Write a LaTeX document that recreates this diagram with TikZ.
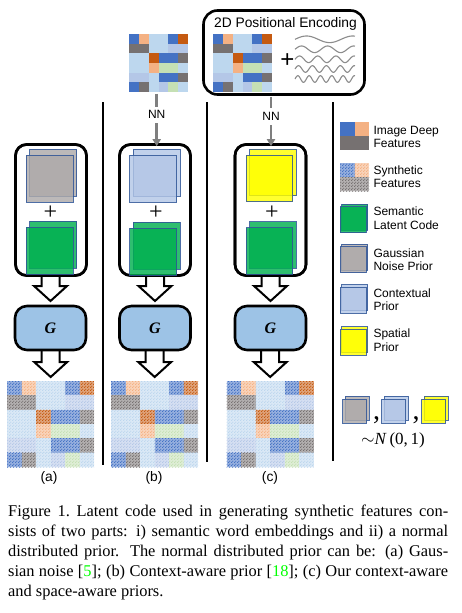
\documentclass[tikz,border=0pt]{standalone}
\usepackage{fontspec}
\setmainfont{Liberation Serif}
\setsansfont{Liberation Sans}
\usetikzlibrary{calc,patterns.meta,arrows.meta}

\definecolor{mB}{HTML}{4472C4}
\definecolor{mLO}{HTML}{F4B183}
\definecolor{mLB}{HTML}{BDD7EE}
\definecolor{mDO}{HTML}{C55A11}
\definecolor{mG}{HTML}{767171}
\definecolor{mP}{HTML}{B4C7E7}
\definecolor{mLG}{HTML}{C5E0B4}
\definecolor{noisegray}{HTML}{AEAAAA}
\definecolor{ctxblue}{HTML}{B4C7E7}
\definecolor{spyellow}{HTML}{FFFF00}
\definecolor{semgreen}{HTML}{00B050}
\definecolor{edgeblue}{HTML}{2F5597}
\definecolor{gboxfill}{HTML}{9DC3E6}
\definecolor{nngray}{HTML}{7F7F7F}
\definecolor{wavegray}{HTML}{8C8C8C}
\definecolor{citegreen}{rgb}{0,1,0}

\tikzdeclarepattern{
  name=dotgrid,
  type=uncolored,
  bottom left={(0pt,0pt)},
  top right={(3pt,3pt)},
  tile size={(3pt,3pt)},
  code={
    \pgfpathcircle{\pgfpoint{0.75pt}{0.75pt}}{0.9pt}
    \pgfpathcircle{\pgfpoint{2.25pt}{2.25pt}}{0.9pt}
    \pgfusepath{fill}
  }
}

\newcommand\fsz[2]{\fontsize{#1}{#2}\selectfont}

% mosaic: x y cellw cellh style
\newcommand\mosaicgrid[5]{%
  \foreach \mrow [count=\mr from 0] in {{mB,mLO,mLB,mLB,mB,mDO},{mG,mG,mLB,mLB,mP,mP},{mLB,mLB,mDO,mB,mB,mG},{mLB,mLB,mLO,mLG,mLG,mLB},{mP,mP,mLB,mB,mB,mG},{mB,mG,mLB,mP,mLG,mLB}}{%
    \foreach \mc [count=\mcol from 0] in \mrow {%
      \path[#5=\mc] ({#1+\mcol*#3},{#2+\mr*#4}) rectangle ++(#3,#4);}}}

% stacked squares: colour, front x, front y, size, dx, dy
\newcommand\stacksq[6]{%
  \path[sqback=#1] ({#2+#5},{#3-#6}) rectangle ++(#4,#4);
  \path[sqfront=#1] (#2,#3) rectangle ++(#4,#4);}

% block arrow: from node anchor #1 to node anchor #2, tip gap #3, head start #4
\newcommand\blockarrow[4]{%
  \draw[blockarr] ($(#2 |- #1)+(-9,0)$) -- ($(#2)+(-9,-#4)$) -- ($(#2)+(-16.5,-#4)$)
    -- ($(#2)+(0,-#3)$) -- ($(#2)+(16.5,-#4)$) -- ($(#2)+(9,-#4)$) -- ($(#2 |- #1)+(9,0)$);}

\begin{document}
\begin{tikzpicture}[x=1pt,y=-1pt,
  colbox/.style={draw=black, line width=2.6pt, rounded corners=11pt, inner sep=0},
  gbox/.style={draw=black, line width=2.6pt, fill=gboxfill, rounded corners=12pt, inner sep=0,
    minimum width=71pt, minimum height=44pt, font=\fsz{16}{19}\bfseries\itshape},
  posbox/.style={draw=black, line width=2.6pt, rounded corners=14pt, inner sep=0},
  blockarr/.style={draw=black, fill=white, line width=2pt, line join=miter},
  nnarrow/.style={draw=nngray, line width=2.6pt, -{Triangle[width=8pt,length=7pt]}},
  nnlabel/.style={fill=white, inner xsep=1pt, inner ysep=4pt, font=\sffamily\fsz{12}{14}, text=black},
  sepline/.style={line width=2.4pt, black},
  sqfront/.style={fill=#1, fill opacity=0.82, draw=edgeblue, draw opacity=0.85, line width=0.9pt},
  sqback/.style={fill=#1, fill opacity=0.82, draw=edgeblue, draw opacity=0.85, line width=0.9pt},
  solidcell/.style={fill=#1},
  synthcell/.style={preaction={fill=#1!55!white}, pattern={dotgrid}, pattern color=#1},
  plustxt/.style={font=\fsz{24}{26}, inner sep=0},
  legtxt/.style={anchor=base west, inner sep=0, font=\sffamily\fsz{12}{14}},
  sublabel/.style={font=\sffamily\fsz{13.8}{16}, inner sep=0},
  captxt/.style={anchor=base west, inner sep=0, font=\fsz{16.4}{20}},
  wave/.style={draw=wavegray, line width=1.1pt},
  mosaicbox/.style={inner sep=0, anchor=north west},
]
\useasboundingbox (0,0) rectangle (461,613);
\fill[white] (0,0) rectangle (461,613);

% ---------- top features ----------
\node[mosaicbox, minimum width=59pt, minimum height=58pt] (feat) at (129,34) {};
\mosaicgrid{129}{34}{9.833}{9.667}{solidcell}

\node[posbox, minimum width=161pt, minimum height=84pt] (posbox) at (284,52.5) {};
\node[anchor=base, inner sep=0, font=\sffamily\fsz{13.8}{16}] (postitle) at (285.5,27.3) {2D Positional Encoding};
\node[mosaicbox, minimum width=59pt, minimum height=58pt] (posfeat) at (213,34) {};
\mosaicgrid{213}{34}{9.833}{9.667}{solidcell}
\node[inner sep=0, font=\sffamily\fsz{24}{26}] (posplus) at (287.3,61) {+};
\foreach \k/\yy in {1.3/39.3,2.3/49.3,3.3/59.3,4.3/69,5.3/79}
  \draw[wave] plot[domain=0:60,samples=160] ({295+\x},{\yy-3.3*sin(\k*6*\x)});

% ---------- separators ----------
\draw[sepline] (103,102) -- (103,465);
\draw[sepline] (207,102) -- (207,462);
\draw[sepline] (333,102) -- (333,461);

% ---------- node frames (for anchors) ----------
\node[colbox, minimum width=71pt, minimum height=131pt] (boxa) at (51,210) {};
\node[colbox, minimum width=71pt, minimum height=131pt] (boxb) at (155,210) {};
\node[colbox, minimum width=71pt, minimum height=131pt] (boxc) at (270.5,210) {};

\node[mosaicbox, minimum width=87pt, minimum height=86pt] (outa) at (7,381) {};
\node[mosaicbox, minimum width=87pt, minimum height=86pt] (outb) at (111,381) {};
\node[mosaicbox, minimum width=87pt, minimum height=86pt] (outc) at (226.5,381) {};

\coordinate (gca) at (50.5,328);
\coordinate (gcb) at (155,328);
\coordinate (gcc) at (270.5,328);
\path (gca) ++(0,-22) coordinate (gna) (gca) ++(0,22) coordinate (gsa);
\path (gcb) ++(0,-22) coordinate (gnb) (gcb) ++(0,22) coordinate (gsb);
\path (gcc) ++(0,-22) coordinate (gnc) (gcc) ++(0,22) coordinate (gsc);

% ---------- block arrows ----------
\blockarrow{boxa.south}{gna}{5}{20}
\blockarrow{boxb.south}{gnb}{5}{20}
\blockarrow{boxc.south}{gnc}{5}{20}
\blockarrow{gsa}{outa.north}{4}{19}
\blockarrow{gsb}{outb.north}{4}{19}
\blockarrow{gsc}{outc.north}{4}{19}

% ---------- column boxes ----------
\node[colbox, minimum width=71pt, minimum height=131pt] at (boxa) {};
\node[colbox, minimum width=71pt, minimum height=131pt] at (boxb) {};
\node[colbox, minimum width=71pt, minimum height=131pt] at (boxc) {};

\stacksq{noisegray}{26.3}{155}{47}{3.5}{6}
\stacksq{semgreen}{26.3}{227}{47}{3.5}{6}
\stacksq{ctxblue}{129.5}{155}{47}{3.8}{6}
\stacksq{semgreen}{129.5}{228}{47}{3.8}{6}
\stacksq{spyellow}{246}{155}{46.5}{3.5}{6}
\stacksq{semgreen}{246}{227.5}{46.5}{3.5}{6}

\node[plustxt] (plusa) at (50.5,212.5) {+};
\node[plustxt] (plusb) at (155.8,212.5) {+};
\node[plustxt] (plusc) at (272,213) {+};

% ---------- generators ----------
\node[gbox] (Ga) at (gca) {G};
\node[gbox] (Gb) at (gcb) {G};
\node[gbox] (Gc) at (gcc) {G};

% ---------- synthetic outputs ----------
\mosaicgrid{7}{381}{14.5}{14.333}{synthcell}
\mosaicgrid{111}{381}{14.5}{14.333}{synthcell}
\mosaicgrid{226.5}{381}{14.5}{14.333}{synthcell}

\node[sublabel] (laba) at (49,478.3) {(a)};
\node[sublabel] (labb) at (154,478.3) {(b)};
\node[sublabel] (labc) at (270,478.3) {(c)};

% ---------- NN arrows ----------
\draw[nnarrow] ($(feat.south)+(-2,1.5)$) -- node[nnlabel, pos=0.4] (nnb) {NN} ($(feat.south |- boxb.north)+(-2,3)$);
\draw[nnarrow] ($(boxc.north |- posbox.south)+(0.5,1)$) -- node[nnlabel, pos=0.4] (nnc) {NN} ($(boxc.north)+(0.5,3)$);

% ---------- legend ----------
\fill[mB] (340,122) rectangle (354.5,136);
\fill[mLO] (354.5,122) rectangle (369,136);
\fill[mG] (340,136) rectangle (369,150);
\node[legtxt] (l1a) at (373.3,134) {Image Deep};
\node[legtxt] (l1b) at (373.3,147.5) {Features};

\path[synthcell=mB] (340,163) rectangle (354.5,177);
\path[synthcell=mLO] (354.5,163) rectangle (369,177);
\path[synthcell=mG] (340,177) rectangle (369,191);
\node[legtxt] (l2a) at (373.3,174) {Synthetic};
\node[legtxt] (l2b) at (373.3,187.5) {Features};

\stacksq{semgreen}{340}{206.7}{26}{1.7}{2.4}
\node[legtxt] (l3a) at (373.3,215) {Semantic};
\node[legtxt] (l3b) at (373.3,229) {Latent Code};

\stacksq{noisegray}{340}{246.7}{26}{1.7}{2.4}
\node[legtxt] (l4a) at (373.3,257) {Gaussian};
\node[legtxt] (l4b) at (373.3,270.5) {Noise Prior};

\stacksq{ctxblue}{340}{287.3}{26}{1.7}{2.4}
\node[legtxt] (l5a) at (373.3,297) {Contextual};
\node[legtxt] (l5b) at (373.3,310.5) {Prior};

\stacksq{spyellow}{340}{329}{26}{1.7}{2.4}
\node[legtxt] (l6a) at (373.3,337.5) {Spatial};
\node[legtxt] (l6b) at (373.3,351) {Prior};

\stacksq{noisegray}{342.7}{399.3}{24}{2.3}{3.3}
\stacksq{ctxblue}{381.7}{399.3}{24}{2.3}{3.3}
\stacksq{spyellow}{421.7}{399.3}{24}{2.3}{3.3}
\node[anchor=base, inner sep=0, font=\fsz{28}{30}] (comma1) at (376.7,419) {,};
\node[anchor=base, inner sep=0, font=\fsz{28}{30}] (comma2) at (416,419) {,};
\node[anchor=base, inner sep=0, font=\fsz{17}{20}] (ndist) at (393,444.3) {$\sim$\textit{N}\,(0,\,1)};

% ---------- caption ----------
\node[captxt] (cap1) at (8,516) {\makebox[440pt][s]{Figure 1.\ Latent code used in generating synthetic features con-}};
\node[captxt] (cap2) at (8,536) {\makebox[440pt][s]{sists of two parts: i) semantic word embeddings and ii) a normal}};
\node[captxt] (cap3) at (8,556) {\makebox[440pt][s]{distributed prior. The normal distributed prior can be: (a) Gaus-}};
\node[captxt] (cap4) at (8,576) {\makebox[440pt][s]{sian noise [{\color{citegreen}5}]; (b) Context-aware prior [{\color{citegreen}18}]; (c) Our context-aware}};
\node[captxt] (cap5) at (8,596) {and space-aware priors.};
\end{tikzpicture}
\end{document}
